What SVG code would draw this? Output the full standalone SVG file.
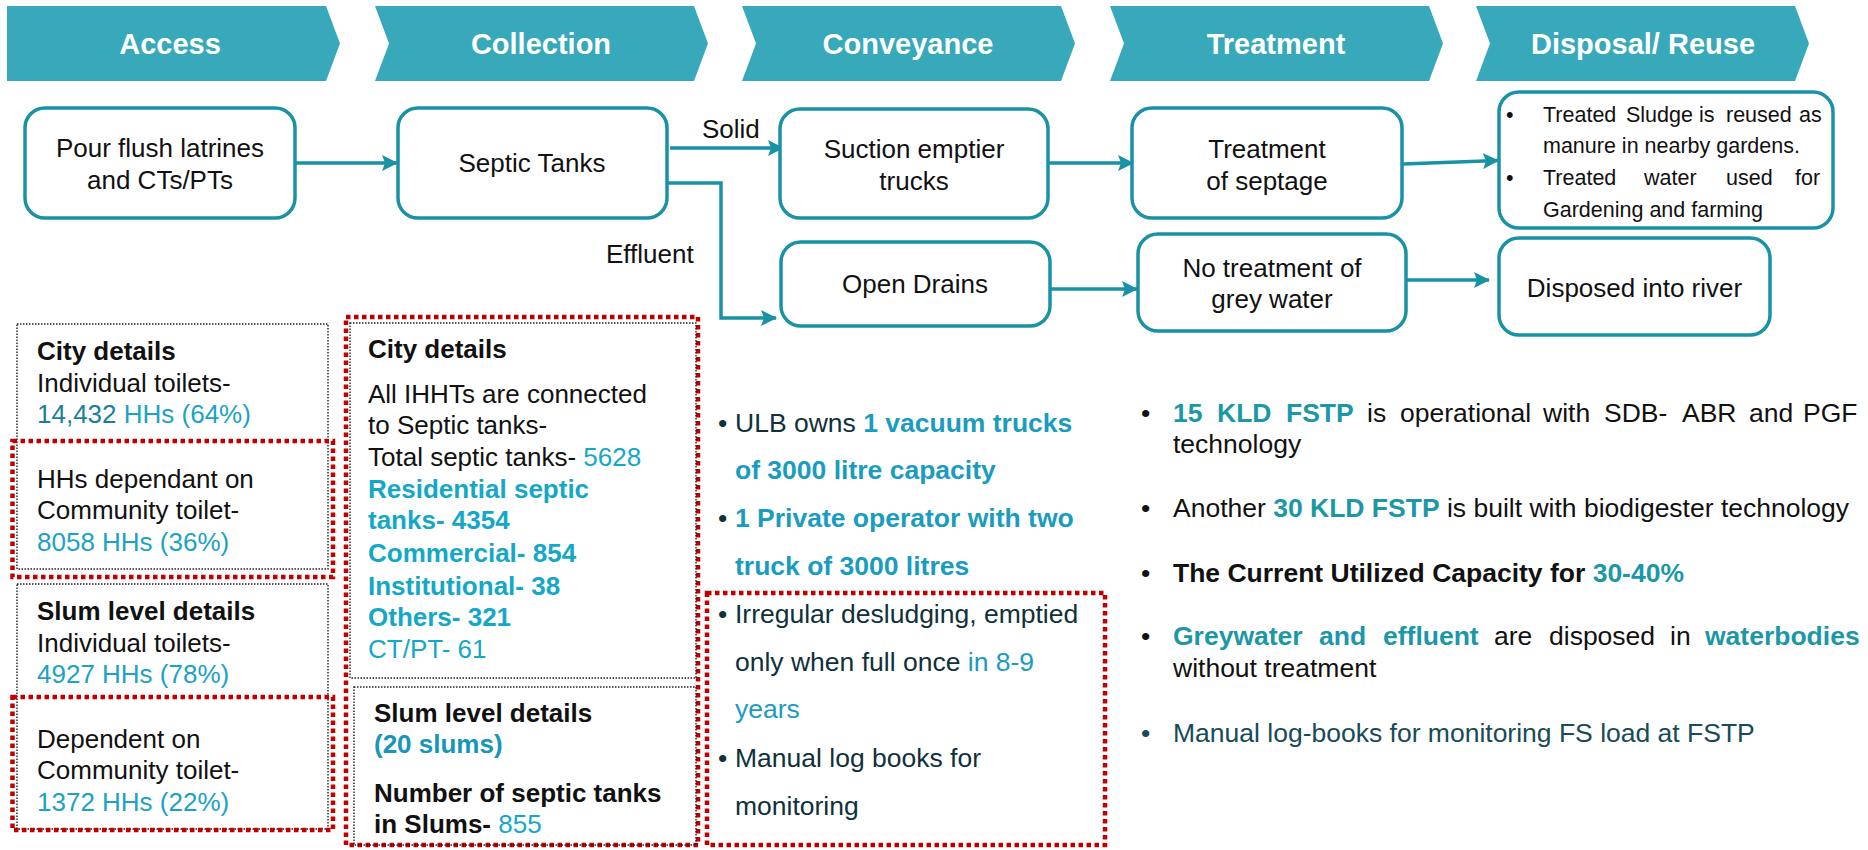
<svg xmlns="http://www.w3.org/2000/svg" width="1868" height="850" viewBox="0 0 1868 850">
<defs>
<style>
text{font-family:"Liberation Sans",Arial,sans-serif;}
.chev{fill:#37A9BB;}
.ct{fill:#fff;font-size:29px;font-weight:bold;text-anchor:middle;}
.box{fill:#fff;stroke:#1892A4;stroke-width:3.5;}
.bt{fill:#111;font-size:26px;text-anchor:middle;}
.st{fill:#111;font-size:21.5px;}
.conn{fill:none;stroke:#1892A4;stroke-width:3.5;}
.dot{fill:none;stroke:#222;stroke-width:1.4;stroke-dasharray:1.5 1.5;}
.red{fill:none;stroke:#C00000;stroke-width:4.5;stroke-dasharray:4.5 3.5;}
.t{font-size:26px;fill:#111;}
.t2{font-size:26.5px;fill:#111;}
.b{font-weight:bold;}
.cy{fill:#1BA2C4;}
.cyd{fill:#187F99;}
.cb{fill:#14A8C6;}
.c3{fill:#1A9CBF;}
.dk{fill:#10303A;}
.tl{fill:#1C97A8;}
.dt{fill:#174B57;}
</style>
<marker id="ah" markerUnits="userSpaceOnUse" markerWidth="16" markerHeight="16" viewBox="0 0 16 16" refX="15" refY="8" orient="auto">
<path d="M0,0 L16,8 L0,16 L3,8 Z" fill="#1892A4"/>
</marker>
</defs>

<g id="stages">
<g id="stage-access"><path class="chev" d="M7,6 L326,6 L340,43.5 L326,81 L7,81 Z"/><text class="ct" x="170" y="54">Access</text></g>
<g id="stage-collection"><path class="chev" d="M375,6 L694,6 L708,43.5 L694,81 L375,81 L389,43.5 Z"/><text class="ct" x="541" y="54">Collection</text></g>
<g id="stage-conveyance"><path class="chev" d="M742,6 L1061,6 L1075,43.5 L1061,81 L742,81 L756,43.5 Z"/><text class="ct" x="908" y="54">Conveyance</text></g>
<g id="stage-treatment"><path class="chev" d="M1110,6 L1429,6 L1443,43.5 L1429,81 L1110,81 L1124,43.5 Z"/><text class="ct" x="1276" y="54">Treatment</text></g>
<g id="stage-disposal"><path class="chev" d="M1476,6 L1795,6 L1809,43.5 L1795,81 L1476,81 L1490,43.5 Z"/><text class="ct" x="1643" y="54">Disposal/ Reuse</text></g>
</g>

<g id="connectors">
<line class="conn" x1="295" y1="163" x2="397" y2="163" marker-end="url(#ah)"/>
<line class="conn" x1="670" y1="148" x2="783" y2="148" marker-end="url(#ah)"/>
<polyline class="conn" points="663,183 721,183 721,318 776,318" marker-end="url(#ah)"/>
<line class="conn" x1="1048" y1="163" x2="1133" y2="163" marker-end="url(#ah)"/>
<line class="conn" x1="1403" y1="164" x2="1498" y2="160.5" marker-end="url(#ah)"/>
<line class="conn" x1="1050" y1="289" x2="1137" y2="289" marker-end="url(#ah)"/>
<line class="conn" x1="1406" y1="280" x2="1489" y2="280" marker-end="url(#ah)"/>
<text class="t" x="702" y="138">Solid</text>
<text class="t" x="606" y="263">Effluent</text>
</g>

<g id="node-pour">
<rect class="box" x="25" y="108" width="270" height="110" rx="20"/>
<text class="bt" x="160" y="157">Pour flush latrines</text>
<text class="bt" x="160" y="189">and CTs/PTs</text>
</g>
<g id="node-septic">
<rect class="box" x="398" y="108" width="269" height="110" rx="20"/>
<text class="bt" x="532" y="172">Septic Tanks</text>
</g>
<g id="node-suction">
<rect class="box" x="780" y="109" width="268" height="109" rx="20"/>
<text class="bt" x="914" y="158">Suction emptier</text>
<text class="bt" x="914" y="190">trucks</text>
</g>
<g id="node-treatment">
<rect class="box" x="1132" y="108" width="270" height="110" rx="20"/>
<text class="bt" x="1267" y="158">Treatment</text>
<text class="bt" x="1267" y="190">of septage</text>
</g>
<g id="node-reuse">
<rect class="box" x="1499" y="92" width="334" height="136" rx="20"/>
<text class="st" x="1506" y="122">•</text>
<text class="st" y="122"><tspan x="1543">Treated</tspan><tspan x="1626">Sludge</tspan><tspan x="1699">is</tspan><tspan x="1726">reused</tspan><tspan x="1799">as</tspan></text>
<text class="st" x="1543" y="153">manure in nearby gardens.</text>
<text class="st" x="1506" y="185">•</text>
<text class="st" y="185"><tspan x="1543">Treated</tspan><tspan x="1644">water</tspan><tspan x="1726">used</tspan><tspan x="1795">for</tspan></text>
<text class="st" x="1543" y="217">Gardening and farming</text>
</g>
<g id="node-drains">
<rect class="box" x="781" y="242" width="269" height="84" rx="20"/>
<text class="bt" x="915" y="293">Open Drains</text>
</g>
<g id="node-notreat">
<rect class="box" x="1138" y="234" width="268" height="97" rx="20"/>
<text class="bt" x="1272" y="277">No treatment of</text>
<text class="bt" x="1272" y="308">grey water</text>
</g>
<g id="node-river">
<rect class="box" x="1499" y="238" width="271" height="97" rx="20"/>
<text class="bt" x="1634.5" y="297">Disposed into river</text>
</g>

<g id="panel-access">
<rect class="dot" x="17" y="324" width="311" height="245"/>
<rect class="red" x="12.5" y="441" width="320.5" height="136"/>
<rect class="dot" x="17" y="584" width="311" height="245"/>
<rect class="red" x="12.5" y="697" width="320.5" height="133"/>
<text class="t b" x="37" y="360">City details</text>
<text class="t" x="37" y="392">Individual toilets-</text>
<text class="t" x="37" y="423"><tspan class="cyd">14,432</tspan><tspan class="cy"> HHs (64%)</tspan></text>
<text class="t" x="37" y="488">HHs dependant on</text>
<text class="t" x="37" y="519">Community toilet-</text>
<text class="t cy" x="37" y="551">8058 HHs (36%)</text>
<text class="t b" x="37" y="620">Slum level details</text>
<text class="t" x="37" y="652">Individual toilets-</text>
<text class="t cy" x="37" y="683">4927 HHs (78%)</text>
<text class="t" x="37" y="748">Dependent on</text>
<text class="t" x="37" y="779">Community toilet-</text>
<text class="t cy" x="37" y="811">1372 HHs (22%)</text>
</g>

<g id="panel-collection">
<rect class="red" x="346" y="317" width="352" height="528"/>
<rect class="dot" x="350" y="323" width="346" height="355"/>
<rect class="dot" x="354" y="687" width="342" height="158"/>
<text class="t b" x="368" y="358">City details</text>
<text class="t" x="368" y="403">All IHHTs are connected</text>
<text class="t" x="368" y="434">to Septic tanks-</text>
<text class="t" x="368" y="466">Total septic tanks- <tspan class="cb">5628</tspan></text>
<text class="t b cb" x="368" y="498">Residential septic</text>
<text class="t b cb" x="368" y="529">tanks- 4354</text>
<text class="t b cb" x="368" y="562">Commercial- 854</text>
<text class="t b cb" x="368" y="595">Institutional- 38</text>
<text class="t b cb" x="368" y="626">Others- 321</text>
<text class="t cb" x="368" y="658">CT/PT- 61</text>
<text class="t b" x="374" y="722">Slum level details</text>
<text class="t b" x="374" y="753" style="fill:#1596BA">(20 slums)</text>
<text class="t b" x="374" y="802">Number of septic tanks</text>
<text class="t b" x="374" y="833">in Slums- <tspan class="cb" style="font-weight:normal">855</tspan></text>
</g>

<g id="panel-conveyance">
<rect class="red" x="707" y="593" width="398" height="252"/>
<text class="t2 dk" x="718" y="432">•</text>
<text class="t2 dk" x="735" y="432">ULB owns <tspan class="b c3">1 vacuum trucks</tspan></text>
<text class="t2 b c3" x="735" y="479">of 3000 litre capacity</text>
<text class="t2 dk" x="718" y="527">•</text>
<text class="t2 b c3" x="735" y="527">1 Private operator with two</text>
<text class="t2 b c3" x="735" y="575">truck of 3000 litres</text>
<text class="t2 dk" x="718" y="623">•</text>
<text class="t2 dk" x="735" y="623">Irregular desludging, emptied</text>
<text class="t2 dk" x="735" y="671">only when full once <tspan class="c3">in 8-9</tspan></text>
<text class="t2 c3" x="735" y="718">years</text>
<text class="t2 dk" x="718" y="767">•</text>
<text class="t2 dk" x="735" y="767">Manual log books for</text>
<text class="t2 dk" x="735" y="815">monitoring</text>
</g>

<g id="panel-treatment">
<text class="t2" x="1141" y="422">•</text>
<text class="t2" y="422"><tspan class="b tl" x="1173">15</tspan><tspan class="b tl" x="1217">KLD</tspan><tspan class="b tl" x="1286">FSTP</tspan><tspan x="1367">is</tspan><tspan x="1400">operational</tspan><tspan x="1543">with</tspan><tspan x="1604">SDB-</tspan><tspan x="1682">ABR</tspan><tspan x="1749">and</tspan><tspan x="1803">PGF</tspan></text>
<text class="t2" x="1173" y="453">technology</text>
<text class="t2" x="1141" y="517">•</text>
<text class="t2" x="1173" y="517">Another <tspan class="b tl">30 KLD FSTP</tspan> is built with biodigester technology</text>
<text class="t2" x="1141" y="582">•</text>
<text class="t2 b" x="1173" y="582">The Current Utilized Capacity for <tspan class="tl">30-40%</tspan></text>
<text class="t2" x="1141" y="645">•</text>
<text class="t2" y="645"><tspan class="b tl" x="1173">Greywater</tspan><tspan class="b tl" x="1319">and</tspan><tspan class="b tl" x="1383">effluent</tspan><tspan x="1494">are</tspan><tspan x="1549">disposed</tspan><tspan x="1670">in</tspan><tspan class="b tl" x="1705">waterbodies</tspan></text>
<text class="t2" x="1173" y="677">without treatment</text>
<text class="t2 dt" x="1141" y="742">•</text>
<text class="t2 dt" x="1173" y="742">Manual log-books for monitoring FS load at FSTP</text>
</g>
</svg>
